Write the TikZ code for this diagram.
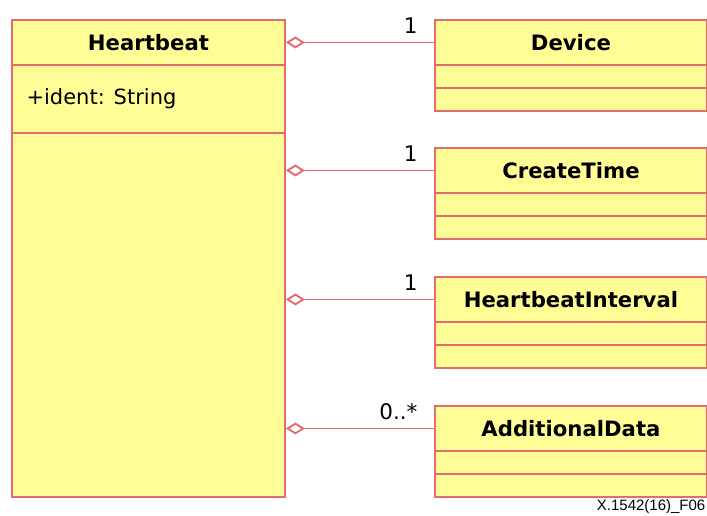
\documentclass[tikz,border=0pt]{standalone}
\usepackage{fontspec}
\setmainfont{DejaVu Sans}
\newfontfamily\footfont{Liberation Sans}
\usetikzlibrary{arrows.meta}
\definecolor{umlfill}{RGB}{255,253,150}
\definecolor{umlline}{RGB}{228,108,108}
\begin{document}
\begin{tikzpicture}[x=1pt,y=-1pt,
  comp/.style={draw=umlline, fill=umlfill, line width=1.9pt, rectangle, inner sep=0pt, anchor=north west},
  title/.style={font=\fontsize{21.2}{25}\selectfont\bfseries},
  attr/.style={font=\fontsize{21}{25}\selectfont},
  mult/.style={font=\fontsize{21.5}{25}\selectfont, anchor=base east},
  agg/.style={draw=umlline, line width=1.9pt, {Diamond[open,length=19pt,width=12pt,line width=1.9pt]}-}
]
\useasboundingbox (0,0) rectangle (707,515);
% Heartbeat class
\node[comp, minimum width=273pt, minimum height=45pt] (hbhead) at (11,19) {};
\node[title] (hbname) at (hbhead.center) {Heartbeat};
\node[comp, minimum width=273pt, minimum height=68pt] (hbattr) at (11,64) {};
\node[attr, anchor=west] (hbident) at ([xshift=12pt]hbattr.west) {+ident: String};
\node[comp, minimum width=273pt, minimum height=364pt] (hbops) at (11,132) {};
% Device
\node[comp, minimum width=272pt, minimum height=45pt] (devhead) at (434,19) {};
\node[title] (devname) at (devhead.center) {Device};
\node[comp, minimum width=272pt, minimum height=23pt] (devattr) at (434,64) {};
\node[comp, minimum width=272pt, minimum height=23pt] (devops) at (434,87) {};
% CreateTime
\node[comp, minimum width=272pt, minimum height=45pt] (cthead) at (434,147) {};
\node[title] (ctname) at (cthead.center) {CreateTime};
\node[comp, minimum width=272pt, minimum height=23pt] (ctattr) at (434,192) {};
\node[comp, minimum width=272pt, minimum height=23pt] (ctops) at (434,215) {};
% HeartbeatInterval
\node[comp, minimum width=272pt, minimum height=45pt] (hihead) at (434,276) {};
\node[title] (hiname) at (hihead.center) {HeartbeatInterval};
\node[comp, minimum width=272pt, minimum height=23pt] (hiattr) at (434,321) {};
\node[comp, minimum width=272pt, minimum height=23pt] (hiops) at (434,344) {};
% AdditionalData
\node[comp, minimum width=272pt, minimum height=45pt] (adhead) at (434,405) {};
\node[title] (adname) at (adhead.center) {AdditionalData};
\node[comp, minimum width=272pt, minimum height=23pt] (adattr) at (434,450) {};
\node[comp, minimum width=272pt, minimum height=23pt] (adops) at (434,473) {};
% aggregations
\draw[agg] (hbhead.east |- devhead.west) -- (devhead.west);
\draw[agg] (hbops.east |- cthead.west) -- (cthead.west);
\draw[agg] (hbops.east |- hihead.west) -- (hihead.west);
\draw[agg] (hbops.east |- adhead.west) -- (adhead.west);
% multiplicities
\node[mult] (m1) at ([xshift=-13pt,yshift=9pt]devhead.west) {1};
\node[mult] (m2) at ([xshift=-13pt,yshift=9pt]cthead.west) {1};
\node[mult] (m3) at ([xshift=-13pt,yshift=9pt]hihead.west) {1};
\node[mult] (m4) at ([xshift=-13pt,yshift=9pt]adhead.west) {0..*};
% figure id
\node[font=\footfont\fontsize{15}{18}\selectfont, anchor=base east, inner sep=0pt] (figid) at (705.5,510.5) {X.1542(16)\_F06};
\end{tikzpicture}
\end{document}
